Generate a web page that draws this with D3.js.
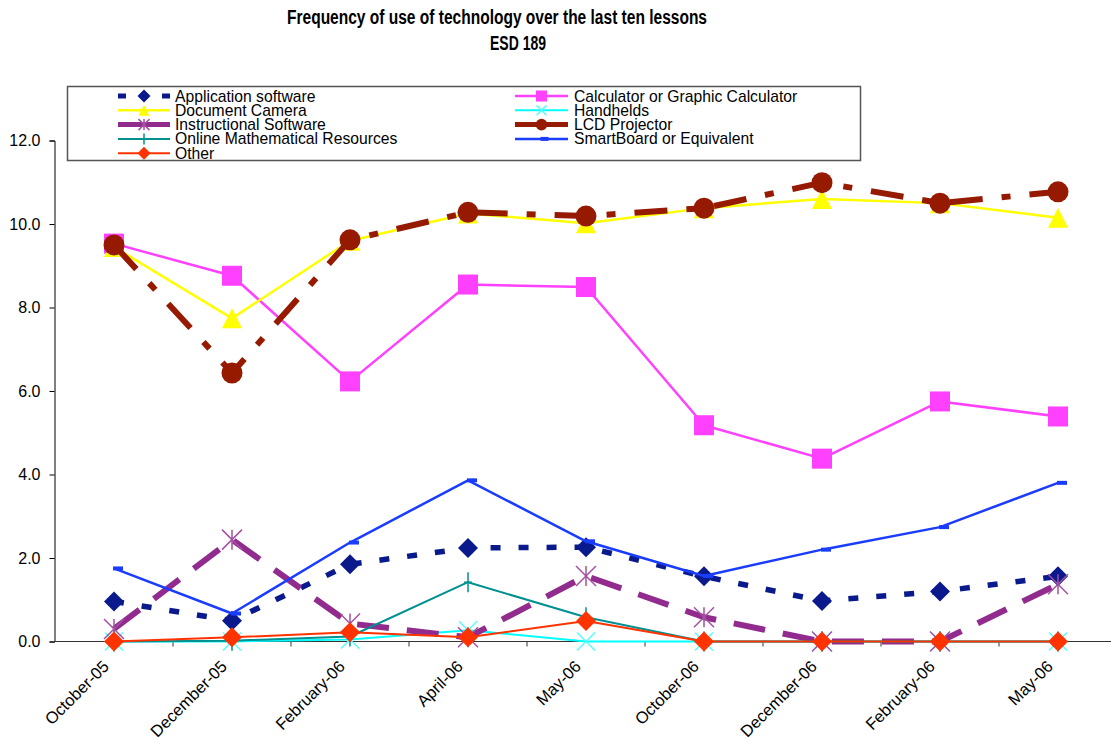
<!DOCTYPE html>
<html><head><meta charset="utf-8">
<script src="https://cdn.jsdelivr.net/npm/d3@7"></script>
<style>
body{margin:0;background:#fff}
svg{display:block}
text{font-family:Arial,"Liberation Sans",sans-serif;fill:#000}
</style>
</head><body>
<svg id="c" width="1111" height="739"></svg>
<script>
// ---- data ----
const categories = ["October-05","December-05","February-06","April-06","May-06","October-06","December-06","February-06","May-06"];
const yTicks = [0, 2, 4, 6, 8, 10, 12];
const applicationSoftware = [0.96, 0.50, 1.85, 2.24, 2.26, 1.56, 0.97, 1.20, 1.56];
const calculator = [9.53, 8.76, 6.23, 8.55, 8.49, 5.18, 4.38, 5.75, 5.39];
const documentCamera = [9.45, 7.74, 9.60, 10.25, 10.02, 10.38, 10.60, 10.50, 10.15];
const handhelds = [0, 0, 0.05, 0.27, 0, 0, 0, 0, 0];
const instructionalSoftware = [0.30, 2.44, 0.43, 0.10, 1.57, 0.58, 0, 0, 1.37];
const lcdProjector = [9.50, 6.43, 9.62, 10.28, 10.19, 10.38, 10.99, 10.50, 10.77];
const onlineMath = [0, 0.02, 0.12, 1.42, 0.58, 0, 0, 0, 0];
const smartBoard = [1.75, 0.67, 2.37, 3.86, 2.40, 1.57, 2.20, 2.74, 3.80];
const other = [0, 0.10, 0.22, 0.10, 0.49, 0, 0, 0, 0];

const seriesNames = ["Application software","Calculator or Graphic Calculator","Document Camera","Handhelds",
  "Instructional Software","LCD Projector","Online Mathematical Resources","SmartBoard or Equivalent","Other"];
const seriesValues = [applicationSoftware, calculator, documentCamera, handhelds,
  instructionalSoftware, lcdProjector, onlineMath, smartBoard, other];

// ---- styles ----
const styles = [
  {color:"#0a1a8c", width:5.5, dash:"10,18", marker:"diamond", msize:10, mcolor:"#0a1a8c"},
  {color:"#ff40ff", width:2.5, dash:null, marker:"square", msize:20, mcolor:"#ff40ff"},
  {color:"#ffff00", width:2.5, dash:null, marker:"triangle", msize:20, mcolor:"#ffff00"},
  {color:"#00ffff", width:2, dash:null, marker:"x", msize:18, mcolor:"#55ffff"},
  {color:"#922b8e", width:6, dash:"32,18", marker:"asterisk", msize:20, mcolor:"#a550a3"},
  {color:"#951a00", width:6, dash:"33,19,9,19", marker:"circle", msize:21, mcolor:"#951a00"},
  {color:"#009090", width:2, dash:null, marker:"plus", msize:20, mcolor:"#009090"},
  {color:"#1a3cff", width:2.5, dash:null, marker:"dash", msize:10, mcolor:"#1a3cff"},
  {color:"#ff3300", width:2, dash:null, marker:"diamond", msize:10, mcolor:"#ff3300"}
];

const svg = d3.select("#c");
const x = d3.scalePoint().domain(d3.range(categories.length)).range([55, 1117]).padding(0.5);
const y = d3.scaleLinear().domain([0, 12]).range([641.5, 140.5]);

// title
svg.append("text").attr("x", 497).attr("y", 24).attr("text-anchor", "middle")
  .style("font-weight", "bold").style("font-size", "20px")
  .attr("textLength", 420).attr("lengthAdjust", "spacingAndGlyphs")
  .text("Frequency of use of technology over the last ten lessons");
svg.append("text").attr("x", 518).attr("y", 50).attr("text-anchor", "middle")
  .style("font-weight", "bold").style("font-size", "20px")
  .attr("textLength", 56).attr("lengthAdjust", "spacingAndGlyphs")
  .text("ESD 189");

// y axis
const yAxis = d3.axisLeft(y).tickValues(yTicks).tickFormat(d3.format(".1f")).tickSize(5).tickPadding(9);
const gy = svg.append("g").attr("transform", "translate(54.5,0)").call(yAxis);
gy.select(".domain").attr("stroke", "#000");
gy.selectAll(".tick line").attr("stroke", "#000");
gy.selectAll("text").style("font-size", "16px").style("font-family", "Arial, 'Liberation Sans', sans-serif").attr("fill", "#111");

// x axis
const step = x.step();
const gx = svg.append("g");
gx.append("line").attr("x1", 54.5).attr("x2", 1111).attr("y1", y(0)).attr("y2", y(0)).attr("stroke", "#333").attr("stroke-width", 1.2);
gx.selectAll("line.t").data(d3.range(categories.length)).join("line").attr("class", "t")
  .attr("x1", d => x(d) + step / 2).attr("x2", d => x(d) + step / 2)
  .attr("y1", y(0)).attr("y2", y(0) + 5).attr("stroke", "#333");
gx.selectAll("text").data(categories).join("text")
  .attr("transform", (d, i) => `translate(${x(i) - 4},${y(0) + 26}) rotate(-45)`)
  .attr("text-anchor", "end").style("font-size", "16.5px").text(d => d);

// marker shapes
function drawMarker(g, type, s, color) {
  if (type === "diamond") {
    g.append("path").attr("d", `M0,${-s}L${s},0L0,${s}L${-s},0Z`).attr("fill", color);
  } else if (type === "square") {
    g.append("rect").attr("x", -s / 2).attr("y", -s / 2).attr("width", s).attr("height", s).attr("fill", color);
  } else if (type === "triangle") {
    g.append("path").attr("d", `M0,${-s / 2}L${s / 2},${s / 2}L${-s / 2},${s / 2}Z`).attr("fill", color);
  } else if (type === "circle") {
    g.append("circle").attr("r", s / 2).attr("fill", color);
  } else if (type === "x") {
    const h = s / 2;
    g.append("path").attr("d", `M${-h},${-h}L${h},${h}M${-h},${h}L${h},${-h}`).attr("stroke", color).attr("stroke-width", 1.5);
  } else if (type === "asterisk") {
    const h = s / 2;
    g.append("path").attr("d", `M${-h},${-h}L${h},${h}M${-h},${h}L${h},${-h}M0,${-h}L0,${h}`).attr("stroke", color).attr("stroke-width", 1.5);
  } else if (type === "plus") {
    const h = s / 2;
    g.append("path").attr("d", `M0,${-h}L0,${h}M${-h * 0.4},0L${h * 0.4},0`).attr("stroke", color).attr("stroke-width", 1.5);
  } else if (type === "dash") {
    g.append("rect").attr("x", -1).attr("y", -2).attr("width", s).attr("height", 4).attr("fill", color);
  }
}

// series
const line = d3.line().x((d, i) => x(i)).y(d => y(d));
seriesValues.forEach((vals, k) => {
  const st = styles[k];
  const g = svg.append("g");
  const p = g.append("path").attr("d", line(vals)).attr("fill", "none")
    .attr("stroke", st.color).attr("stroke-width", st.width).attr("stroke-linejoin", "round");
  if (st.dash) p.attr("stroke-dasharray", st.dash);
  vals.forEach((v, i) => {
    const mg = g.append("g").attr("transform", `translate(${x(i)},${y(v)})`);
    drawMarker(mg, st.marker, st.msize, st.mcolor);
  });
});

// legend
const lg = svg.append("g");
lg.append("rect").attr("x", 67.5).attr("y", 86.5).attr("width", 793).attr("height", 74)
  .attr("fill", "#fff").attr("stroke", "#555").attr("stroke-width", 1.5);
const rowY = [96, 110.3, 124.6, 138.9, 153.2];
seriesNames.forEach((name, k) => {
  const col = k % 2, row = Math.floor(k / 2);
  const st = styles[k];
  const x0 = col === 0 ? 118 : 515, x1 = col === 0 ? 170 : 568;
  const yy = rowY[row];
  const p = lg.append("line").attr("x1", x0).attr("x2", x1).attr("y1", yy).attr("y2", yy)
    .attr("stroke", st.color).attr("stroke-width", Math.min(st.width, 5));
  if (st.dash) p.attr("stroke-dasharray", st.marker === "diamond" ? "8,14" : null);
  const mg = lg.append("g").attr("transform", `translate(${(x0 + x1) / 2},${yy})`);
  const ms = st.marker === "diamond" ? 6.5 : st.marker === "dash" ? 8 : st.msize * 0.55;
  drawMarker(mg, st.marker, ms, st.mcolor);
  lg.append("text").attr("x", col === 0 ? 175 : 574).attr("y", yy + 5.5)
    .style("font-size", "15.7px").text(name);
});
</script>
</body></html>
